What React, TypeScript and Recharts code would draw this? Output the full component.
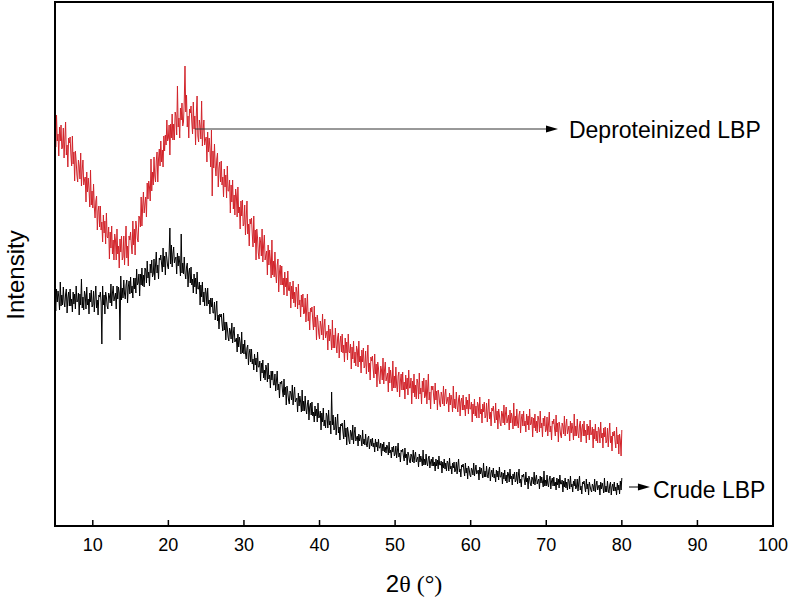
import { Line, LineChart, ReferenceArea, ReferenceLine, XAxis, YAxis } from 'recharts'

// XRD scan: 2θ from 5° to 80°, one reading every 0.1° (one row = one degree)
const START_ANGLE = 5
const STEP = 0.1

// intensities (a.u., 0 = bottom of the frame)
const deproteinized = [
  432, 379, 411, 385, 392, 370, 399, 385, 401, 377, // 5
  379, 398, 368, 387, 404, 371, 381, 359, 388, 383,
  389, 372, 360, 390, 362, 374, 345, 375, 365, 351,
  344, 366, 360, 347, 373, 340, 356, 366, 341, 346,
  349, 324, 354, 334, 348, 337, 319, 356, 321, 335,
  318, 342, 319, 308, 325, 330, 296, 315, 320, 299, // 10
  320, 296, 304, 284, 311, 293, 305, 282, 313, 289,
  288, 299, 267, 294, 278, 300, 272, 286, 266, 292,
  286, 266, 297, 272, 280, 258, 287, 274, 290, 266,
  269, 290, 261, 281, 300, 268, 280, 260, 290, 286,
  294, 281, 272, 305, 281, 297, 271, 305, 298, 287, // 15
  284, 310, 308, 299, 329, 300, 320, 334, 313, 322,
  329, 309, 343, 327, 345, 339, 325, 367, 335, 354,
  341, 369, 350, 344, 365, 374, 344, 367, 377, 360,
  385, 364, 376, 359, 390, 375, 391, 381, 406, 385,
  388, 401, 371, 402, 388, 412, 386, 402, 386, 414, // 20
  410, 391, 440, 399, 408, 388, 418, 406, 423, 400,
  404, 424, 460, 414, 431, 399, 410, 388, 417, 413,
  420, 404, 392, 424, 397, 410, 381, 412, 430, 390,
  384, 406, 400, 387, 425, 380, 396, 406, 381, 386,
  389, 364, 394, 374, 388, 377, 359, 396, 330, 375, // 25
  358, 382, 360, 350, 367, 373, 339, 358, 364, 344,
  365, 341, 349, 329, 357, 339, 351, 328, 360, 335,
  335, 346, 313, 341, 324, 346, 317, 331, 311, 337,
  330, 309, 339, 313, 319, 297, 325, 310, 326, 300,
  302, 321, 291, 308, 325, 292, 302, 280, 307, 302, // 30
  308, 292, 279, 310, 283, 296, 266, 297, 288, 273,
  267, 289, 284, 270, 297, 264, 281, 291, 266, 271,
  275, 251, 281, 261, 276, 266, 248, 286, 251, 265,
  249, 274, 252, 243, 261, 267, 234, 254, 261, 241,
  260, 241, 248, 231, 254, 239, 248, 230, 255, 236, // 35
  235, 244, 218, 240, 227, 245, 223, 234, 219, 239,
  234, 217, 242, 221, 226, 209, 231, 219, 232, 212,
  213, 228, 204, 218, 232, 205, 214, 196, 218, 214,
  219, 206, 196, 220, 199, 209, 186, 211, 204, 192,
  187, 205, 200, 191, 212, 186, 199, 207, 188, 192, // 40
  195, 176, 201, 185, 197, 189, 176, 206, 178, 191,
  178, 198, 181, 173, 189, 193, 168, 183, 190, 174,
  192, 173, 181, 164, 188, 173, 184, 166, 192, 174,
  173, 182, 157, 179, 167, 185, 163, 174, 160, 180,
  176, 159, 185, 164, 170, 153, 176, 164, 178, 158, // 45
  160, 175, 152, 166, 181, 154, 163, 146, 169, 165,
  170, 157, 148, 172, 152, 162, 139, 164, 158, 146,
  142, 160, 156, 146, 168, 142, 156, 164, 145, 149,
  153, 134, 159, 143, 156, 148, 135, 165, 138, 150,
  138, 159, 141, 134, 150, 154, 129, 145, 152, 136, // 50
  154, 136, 144, 127, 151, 137, 148, 131, 156, 138,
  138, 148, 122, 145, 133, 152, 129, 141, 127, 147,
  143, 127, 153, 132, 138, 122, 145, 134, 148, 128,
  130, 146, 122, 137, 152, 126, 134, 117, 140, 136,
  140, 130, 122, 143, 126, 135, 116, 136, 131, 122, // 55
  119, 134, 130, 122, 140, 120, 131, 137, 122, 125,
  129, 114, 133, 121, 131, 126, 114, 140, 118, 127,
  117, 134, 120, 114, 127, 131, 110, 124, 128, 116,
  131, 116, 121, 110, 129, 117, 126, 112, 132, 117,
  117, 124, 104, 122, 112, 127, 110, 120, 108, 124, // 60
  121, 108, 129, 112, 117, 103, 122, 114, 124, 108,
  110, 123, 104, 116, 127, 107, 114, 100, 118, 115,
  120, 110, 103, 123, 106, 115, 97, 117, 111, 103,
  100, 115, 112, 103, 121, 101, 112, 119, 103, 107,
  111, 96, 116, 103, 113, 108, 97, 123, 100, 110, // 65
  100, 117, 103, 98, 111, 115, 93, 107, 112, 100,
  115, 100, 105, 94, 112, 101, 110, 96, 117, 101,
  102, 109, 89, 108, 98, 112, 95, 105, 93, 110,
  107, 94, 115, 98, 103, 89, 108, 100, 110, 94,
  96, 109, 90, 102, 114, 94, 100, 86, 105, 102, // 70
  107, 97, 90, 111, 94, 103, 84, 104, 99, 91,
  88, 103, 100, 92, 110, 90, 100, 107, 92, 96,
  100, 85, 105, 93, 103, 97, 86, 112, 90, 100,
  90, 107, 93, 88, 101, 105, 84, 97, 102, 90,
  105, 90, 96, 83, 102, 91, 100, 86, 106, 91, // 75
  92, 99, 78, 97, 87, 102, 85, 95, 83, 99,
  96, 83, 104, 88, 93, 78, 98, 89, 99, 83,
  85, 98, 79, 92, 103, 83, 90, 75, 94, 90,
  95, 85, 78, 99, 82, 91, 72, 92, 86, 70,
  96, // 80
]

const crude = [
  231, 215, 237, 224, 235, 229, 216, 244, 220, 231, // 5
  221, 239, 224, 219, 232, 237, 213, 228, 234, 220,
  237, 220, 227, 214, 234, 222, 232, 217, 240, 224,
  225, 233, 211, 232, 221, 247, 218, 229, 216, 235,
  231, 217, 239, 221, 227, 212, 233, 224, 236, 219,
  221, 235, 214, 228, 240, 218, 226, 211, 231, 229, // 10
  234, 224, 182, 240, 221, 231, 212, 234, 229, 220,
  217, 233, 230, 223, 242, 220, 233, 240, 225, 229,
  233, 217, 240, 227, 239, 233, 186, 250, 226, 238,
  228, 246, 232, 227, 241, 246, 223, 239, 245, 232,
  249, 233, 240, 228, 248, 237, 248, 233, 257, 241, // 15
  243, 252, 230, 252, 241, 258, 240, 251, 239, 258,
  256, 243, 265, 248, 254, 240, 262, 253, 266, 249,
  252, 267, 246, 261, 274, 253, 261, 247, 268, 266,
  271, 262, 254, 278, 259, 270, 251, 274, 268, 260,
  257, 273, 298, 262, 281, 259, 272, 279, 263, 267, // 20
  269, 252, 273, 260, 270, 263, 250, 292, 253, 263,
  252, 269, 253, 247, 259, 263, 239, 253, 258, 243,
  259, 241, 247, 233, 252, 239, 248, 232, 254, 237,
  237, 244, 221, 241, 229, 244, 224, 234, 220, 238,
  233, 220, 238, 222, 226, 212, 228, 219, 228, 213, // 25
  213, 224, 206, 215, 225, 205, 211, 197, 212, 209,
  212, 202, 195, 213, 196, 204, 186, 204, 198, 189,
  185, 198, 195, 187, 203, 183, 193, 199, 184, 186,
  188, 174, 192, 179, 189, 183, 172, 194, 173, 182,
  172, 186, 173, 167, 178, 181, 161, 173, 177, 164, // 30
  177, 162, 167, 156, 172, 161, 168, 154, 174, 159,
  159, 165, 145, 163, 153, 166, 148, 156, 146, 161,
  157, 144, 163, 147, 151, 138, 155, 146, 155, 141,
  141, 152, 135, 145, 155, 136, 142, 128, 144, 142,
  145, 135, 129, 147, 131, 139, 121, 140, 134, 126, // 35
  122, 135, 133, 126, 141, 121, 131, 139, 124, 126,
  128, 114, 133, 120, 130, 124, 114, 136, 115, 125,
  115, 130, 117, 112, 122, 126, 106, 119, 123, 111,
  124, 110, 114, 104, 120, 110, 117, 104, 123, 108,
  109, 115, 96, 113, 104, 118, 100, 106, 98, 113, // 40
  110, 98, 116, 101, 105, 92, 134, 101, 111, 96,
  97, 109, 91, 102, 112, 93, 99, 86, 102, 100,
  103, 94, 87, 106, 89, 98, 81, 99, 94, 85,
  82, 96, 93, 86, 101, 82, 93, 99, 85, 88,
  90, 80, 92, 85, 91, 87, 80, 96, 82, 87, // 45
  81, 92, 82, 79, 88, 90, 77, 83, 87, 80,
  88, 79, 83, 74, 87, 79, 84, 75, 87, 78,
  78, 83, 70, 82, 75, 84, 74, 79, 73, 81,
  79, 71, 84, 73, 76, 68, 79, 74, 80, 70,
  72, 80, 68, 75, 83, 69, 73, 64, 76, 74, // 50
  77, 70, 65, 78, 68, 72, 61, 74, 71, 65,
  63, 72, 70, 64, 76, 63, 70, 74, 64, 67,
  69, 59, 72, 64, 70, 66, 60, 76, 61, 67,
  61, 72, 63, 60, 68, 70, 58, 64, 67, 60,
  69, 60, 64, 55, 67, 60, 66, 57, 70, 61, // 55
  61, 65, 53, 64, 58, 67, 57, 63, 55, 65,
  63, 55, 68, 57, 60, 52, 63, 58, 64, 54,
  56, 64, 52, 60, 67, 54, 57, 49, 61, 59,
  62, 56, 50, 63, 53, 58, 47, 60, 57, 51,
  49, 58, 56, 51, 63, 50, 56, 61, 52, 54, // 60
  56, 46, 59, 52, 58, 53, 48, 63, 49, 55,
  49, 60, 51, 48, 56, 59, 45, 53, 56, 49,
  58, 48, 52, 44, 56, 49, 55, 46, 59, 49,
  49, 54, 42, 53, 47, 56, 45, 51, 43, 54,
  52, 44, 57, 47, 50, 41, 52, 47, 54, 44, // 65
  46, 54, 42, 50, 57, 43, 47, 39, 51, 49,
  52, 46, 41, 54, 44, 48, 37, 50, 47, 42,
  40, 49, 47, 42, 54, 41, 47, 51, 42, 45,
  47, 37, 50, 43, 49, 44, 39, 55, 40, 46,
  40, 51, 42, 39, 47, 50, 37, 45, 48, 40, // 70
  49, 40, 44, 36, 48, 41, 47, 38, 51, 42,
  42, 46, 34, 45, 39, 48, 38, 44, 36, 47,
  45, 37, 50, 39, 42, 34, 45, 40, 47, 37,
  39, 47, 35, 43, 50, 36, 40, 32, 44, 42,
  45, 39, 34, 47, 37, 42, 31, 44, 40, 36, // 75
  34, 42, 40, 35, 47, 34, 41, 45, 36, 39,
  41, 31, 44, 37, 43, 39, 33, 48, 34, 40,
  34, 45, 36, 33, 41, 44, 31, 39, 42, 35,
  44, 35, 39, 31, 43, 36, 41, 32, 45, 36,
  48, // 80
]

const xTicks = [10, 20, 30, 40, 50, 60, 70, 80, 90, 100]

const data = deproteinized.map((v, i) => ({
  angle: Math.round((START_ANGLE + i * STEP) * 10) / 10,
  dep: v,
  crude: crude[i],
}))

const SANS = '"Liberation Sans", Arial, sans-serif'
const SERIF = '"Liberation Serif", "Times New Roman", serif'

// line with a filled arrow head at (x2, y2) and a text label after it
const arrowShape = (text: string, dx: number, dy: number, color: string) => (props: any) => {
  const { x1, y1, x2, y2 } = props
  return (
    <g>
      <line x1={x1} y1={y1} x2={x2 - 8} y2={y2} stroke={color} strokeWidth={1} />
      <polygon points={`${x2},${y2} ${x2 - 12},${y2 - 3.5} ${x2 - 12},${y2 + 3.5}`} fill="#000" />
      <text x={x2 + dx} y={y2 + dy} fontFamily={SANS} fontSize={23} fill="#000">
        {text}
      </text>
    </g>
  )
}

export default function App() {
  return (
    <div style={{ position: 'absolute', left: 0, top: 0 }}>
      <LineChart width={791} height={598} data={data} margin={{ top: 2, right: 18, bottom: 0, left: 0 }}>
        <XAxis
          type="number"
          dataKey="angle"
          domain={[5, 100]}
          ticks={xTicks}
          allowDataOverflow
          height={72}
          tickSize={-6}
          tickMargin={18}
          tickLine={{ stroke: '#000', strokeWidth: 1.5 }}
          axisLine={{ stroke: '#000', strokeWidth: 2 }}
          tick={{ fill: '#000', fontSize: 18, fontFamily: SANS }}
          label={{
            content: () => (
              <text x={414} y={592} textAnchor="middle" fill="#000" fontSize={24}>
                <tspan fontFamily={SANS}>2</tspan>
                <tspan fontFamily={SERIF}>θ (°)</tspan>
              </text>
            ),
          }}
        />
        <YAxis
          type="number"
          domain={[0, 524]}
          allowDataOverflow
          width={55}
          tick={false}
          tickLine={false}
          axisLine={{ stroke: '#000', strokeWidth: 2 }}
          label={{
            content: () => (
              <text
                x={24}
                y={275}
                transform="rotate(-90 24 275)"
                textAnchor="middle"
                fontFamily={SANS}
                fontSize={24}
                fill="#000"
              >
                Intensity
              </text>
            ),
          }}
        />
        <ReferenceArea
          x1={5}
          x2={100}
          y1={0}
          y2={524}
          fill="none"
          stroke="#000"
          strokeWidth={2}
          ifOverflow="visible"
        />
        <Line
          type="linear"
          dataKey="dep"
          stroke="#d2232a"
          strokeWidth={1}
          dot={false}
          isAnimationActive={false}
        />
        <Line
          type="linear"
          dataKey="crude"
          stroke="#000"
          strokeWidth={1}
          dot={false}
          isAnimationActive={false}
        />
        <ReferenceLine
          segment={[
            { x: 23.5, y: 397 },
            { x: 71.55, y: 397 },
          ]}
          ifOverflow="visible"
          shape={arrowShape('Deproteinized LBP', 11, 9, '#333')}
        />
        <ReferenceLine
          segment={[
            { x: 80.95, y: 39 },
            { x: 83.72, y: 39 },
          ]}
          ifOverflow="visible"
          shape={arrowShape('Crude LBP', 3, 11, '#000')}
        />
      </LineChart>
    </div>
  )
}
